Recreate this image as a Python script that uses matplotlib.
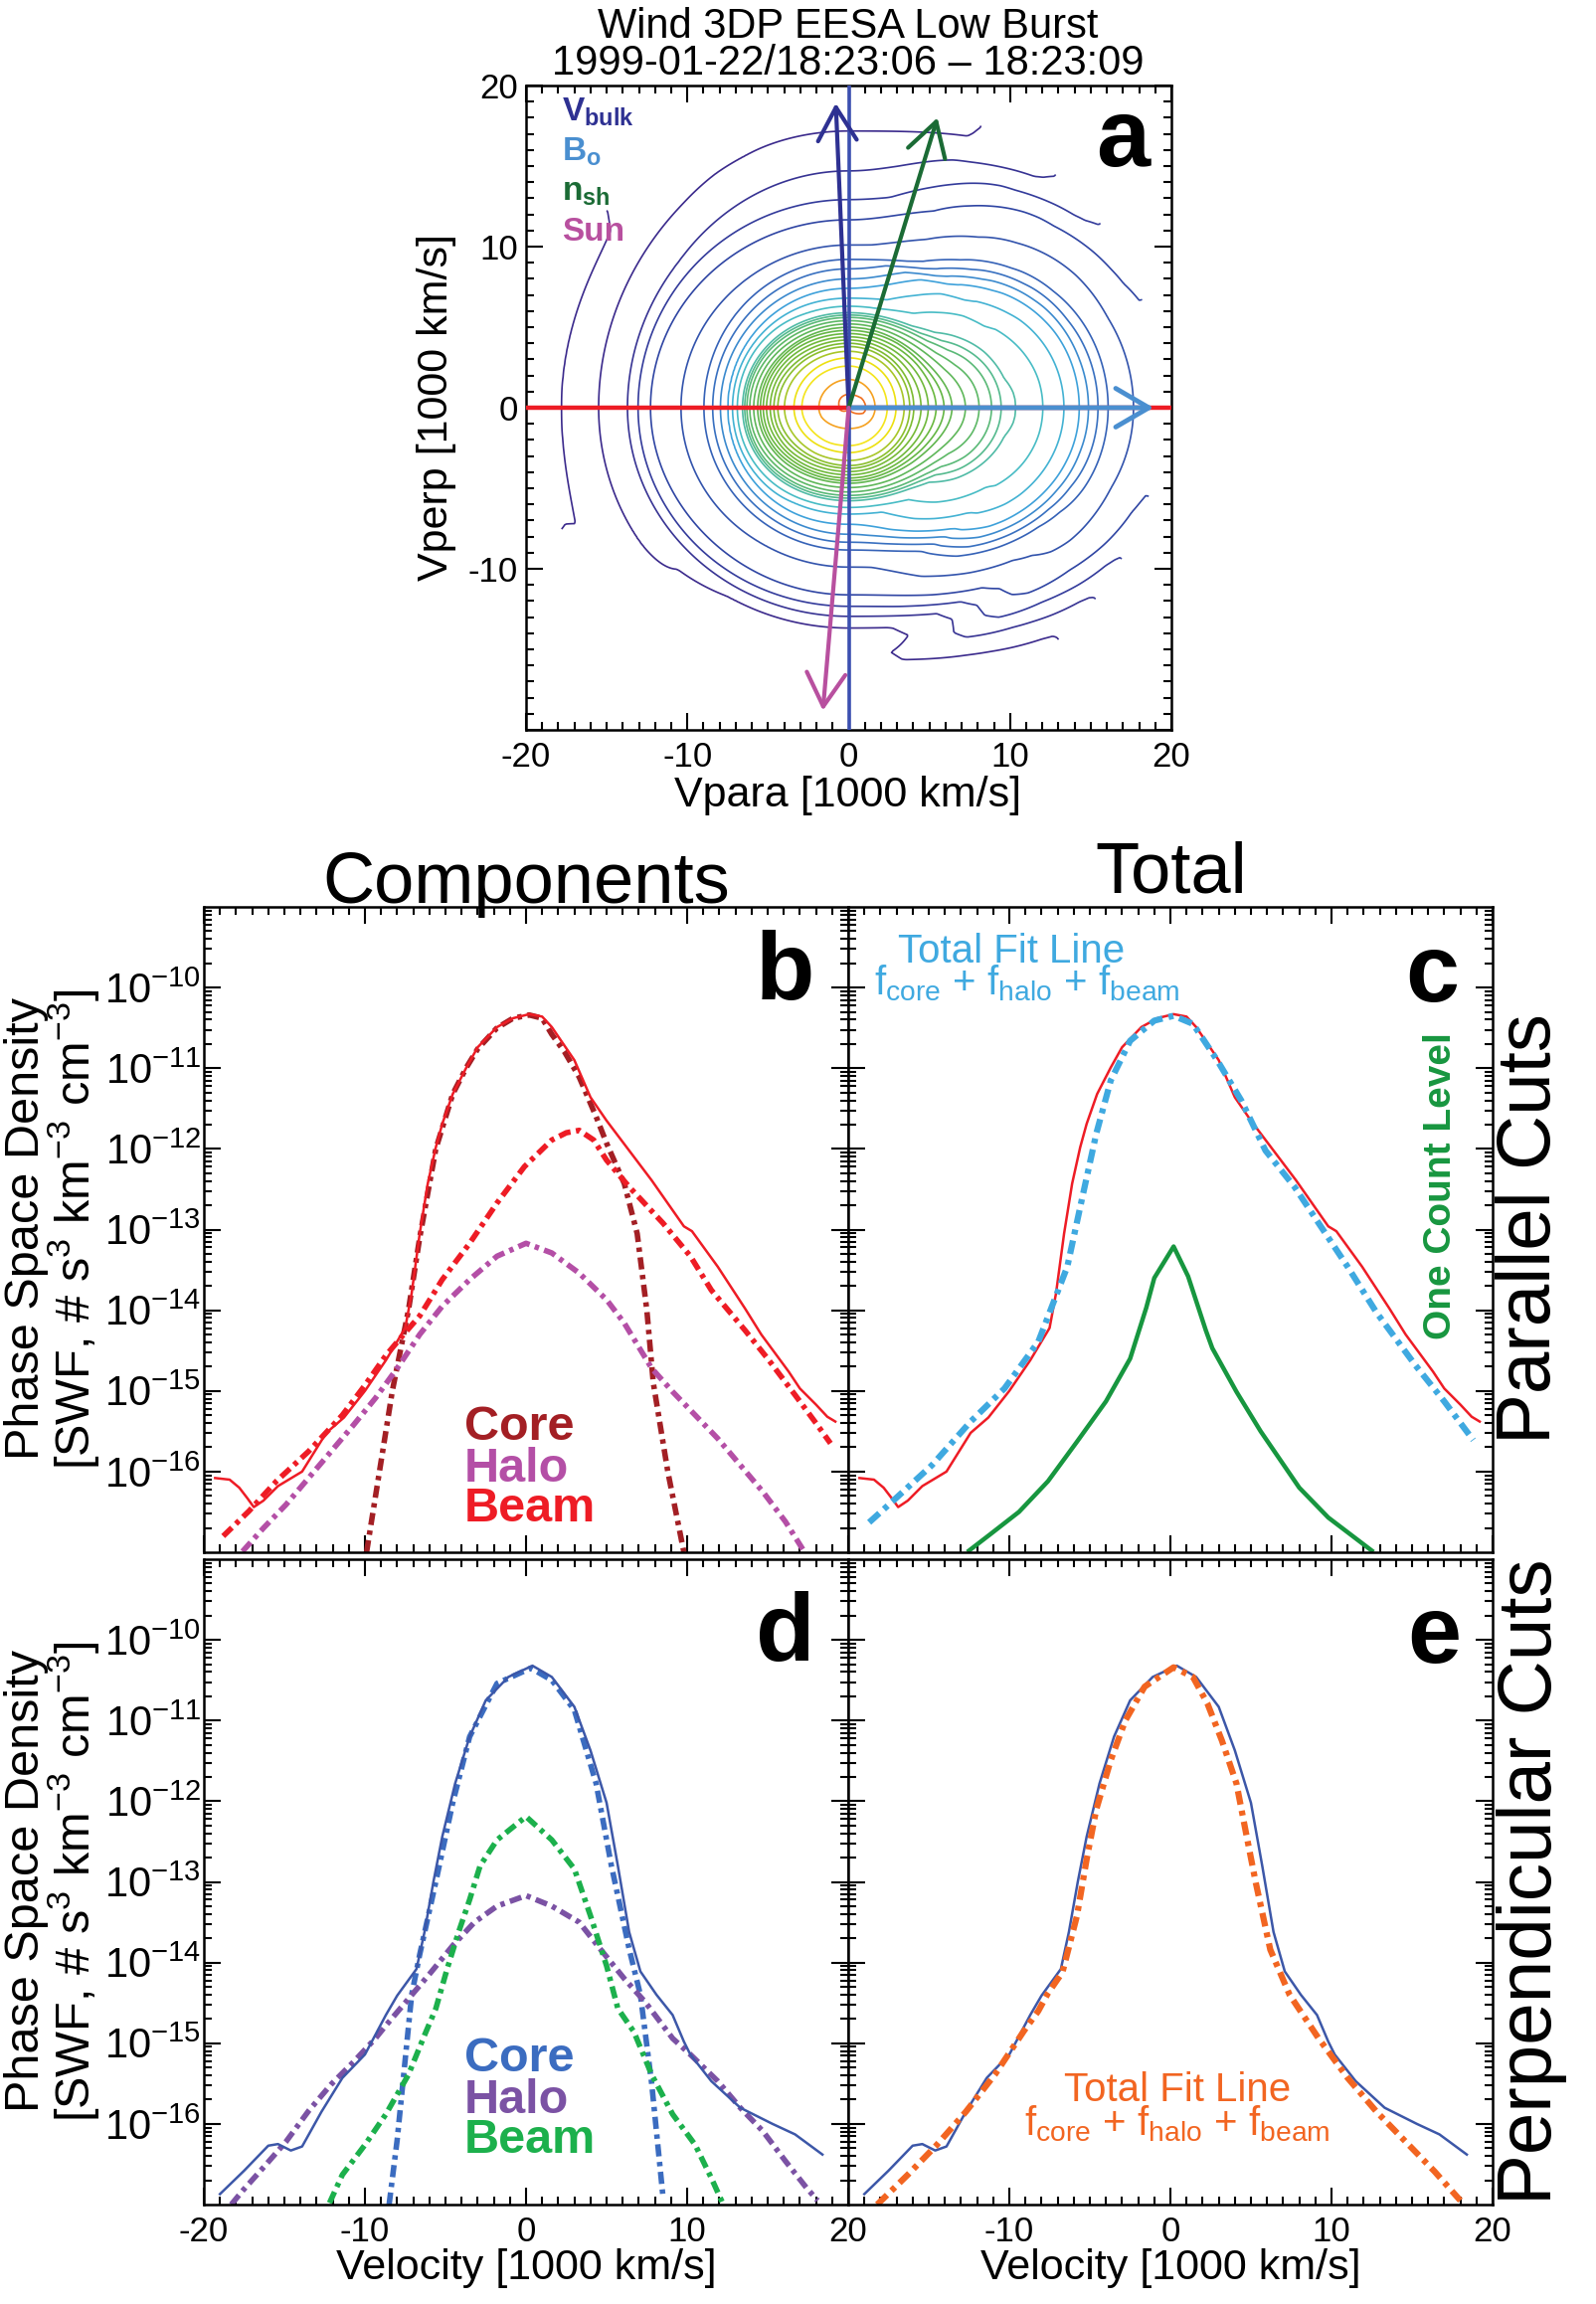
import numpy as np
import matplotlib
matplotlib.use("Agg")
import matplotlib.pyplot as plt
from matplotlib.colors import LinearSegmentedColormap
from matplotlib.ticker import FixedLocator, LogLocator, NullFormatter, MultipleLocator

plt.rcParams['font.family'] = ['Liberation Sans', 'DejaVu Sans']
plt.rcParams['mathtext.fontset'] = 'custom'
plt.rcParams['mathtext.rm'] = 'Liberation Sans'
plt.rcParams['mathtext.it'] = 'Liberation Sans'
plt.rcParams['mathtext.bf'] = 'Liberation Sans:bold'
plt.rcParams['mathtext.default'] = 'regular'
plt.rcParams['axes.unicode_minus'] = False

# ---------------- data (log10 of phase space density) ----------------
# parallel cut, measured (red solid)
par_v = [-19.3, -18.4, -17.8, -17.3, -16.9, -16.3, -15.4, -13.9, -12.4, -11.3, -10.0, -8.7,
         -7.5, -7.1, -6.6, -6.1, -5.6, -5.2, -4.55, -3.7, -3.0, -1.8, -0.8, 0.2, 1.0, 1.6,
         3.0, 4.0, 5.0, 6.4, 7.8, 9.8, 10.3, 11.9, 13.6, 14.6, 16.3, 17.0, 18.0, 18.7, 19.2]
par_logf = [-16.08, -16.10, -16.20, -16.33, -16.44, -16.36, -16.18, -16.0, -15.52, -15.33,
            -15.0, -14.62, -14.22, -13.79, -13.05, -12.43, -11.98, -11.69, -11.32, -10.99,
            -10.74, -10.49, -10.38, -10.33, -10.36, -10.49, -10.9, -11.36, -11.65, -12.02,
            -12.39, -12.96, -13.02, -13.46, -13.98, -14.3, -14.76, -14.97, -15.17, -15.32, -15.38]
# parallel fits
core_par_v = [-9.9, -9.1, -8.3, -7.3, -6.6, -5.6, -4.55, -3.7, -3.0, -1.8, -0.8, 0.2, 1.0,
              1.6, 2.4, 3.3, 4.35, 5.0, 6.1, 6.9, 7.5, 7.9, 8.8, 9.8]
core_par_logf = [-17.0, -16.0, -15.0, -14.0, -13.1, -12.0, -11.32, -10.99, -10.76, -10.5,
                 -10.38, -10.34, -10.38, -10.58, -10.8, -11.11, -11.6, -11.93, -12.43,
                 -13.05, -14.0, -14.9, -16.0, -17.0]
halo_par_v = [-17.6, -16.3, -14.9, -13.5, -12.1, -10.7, -9.35, -8.0, -6.6, -5.2, -3.5, -1.8,
              0.0, 1.6, 3.3, 5.0, 6.1, 7.8, 9.1, 10.5, 11.9, 13.3, 14.7, 16.1, 17.2]
halo_par_logf = [-16.99, -16.7, -16.41, -16.08, -15.75, -15.42, -15.09, -14.72, -14.3, -13.95,
                 -13.62, -13.33, -13.17, -13.29, -13.54, -13.87, -14.16, -14.72, -15.01, -15.3,
                 -15.59, -15.92, -16.25, -16.62, -16.97]
beam_par_v = [-18.8, -17.2, -15.5, -13.5, -11.4, -10.0, -8.7, -7.6, -6.6, -5.2, -3.5, -1.8,
              -0.1, 1.6, 2.5, 3.3, 4.2, 5.0, 6.4, 8.5, 10.2, 11.5, 13.6, 15.0, 16.7, 18.0, 18.9]
beam_par_logf = [-16.8, -16.49, -16.12, -15.75, -15.3, -14.93, -14.56, -14.3, -14.07, -13.62,
                 -13.17, -12.67, -12.22, -11.89, -11.8, -11.77, -11.89, -12.14, -12.47, -12.92,
                 -13.33, -13.75, -14.25, -14.6, -15.05, -15.4, -15.65]
tot_par_v = [-18.7, -17.2, -14.8, -12.4, -10.3, -8.2, -7.0, -6.4, -5.5, -4.6, -3.7, -2.5, -1.0,
             0.2, 1.4, 2.9, 4.4, 5.9, 7.7, 9.2, 11.0, 12.8, 15.2, 17.0, 18.8]
tot_par_logf = [-16.63, -16.36, -15.92, -15.38, -14.97, -14.39, -13.77, -13.46, -12.63, -11.81,
                -11.15, -10.66, -10.41, -10.35, -10.45, -10.9, -11.4, -12.02, -12.47, -12.92,
                -13.46, -14.03, -14.68, -15.13, -15.61]
onecount_v = [-12.5, -11.2, -9.4, -7.6, -5.8, -4.0, -2.5, -1.5, -1.0, 0.2, 1.1, 2.2, 2.6, 4.1,
              5.6, 8.0, 9.8, 12.5]
onecount_logf = [-16.98, -16.78, -16.5, -16.12, -15.63, -15.13, -14.6, -13.97, -13.6, -13.21,
                 -13.58, -14.25, -14.47, -15.01, -15.5, -16.2, -16.57, -16.98]

# perpendicular cut, measured (blue solid)
perp_v = [-19.0, -17.5, -16.0, -15.4, -14.6, -13.9, -12.7, -11.4, -10.0, -8.7, -8.0, -6.8,
          -6.3, -5.75, -5.2, -4.4, -3.5, -2.5, -1.1, 0.4, 1.6, 3.0, 4.0, 5.0, 5.7, 6.4, 7.1,
          8.1, 9.1, 9.8, 10.2, 11.5, 13.3, 15.3, 16.7, 18.4]
perp_logf = [-16.87, -16.58, -16.27, -16.25, -16.33, -16.28, -15.85, -15.43, -15.14, -14.65,
             -14.41, -14.08, -13.62, -13.0, -12.44, -11.78, -11.2, -10.75, -10.46, -10.32,
             -10.46, -10.83, -11.37, -12.02, -12.8, -13.62, -14.11, -14.4, -14.65, -14.98,
             -15.14, -15.47, -15.8, -16.0, -16.13, -16.38]
core_perp_v = [-8.5, -8.0, -7.6, -7.1, -6.6, -5.6, -4.55, -3.5, -1.8, 0.3, 1.6, 3.0, 4.35,
               5.3, 6.4, 7.1, 7.8, 8.5]
core_perp_logf = [-17.0, -16.2, -15.4, -14.4, -13.9, -13.0, -12.02, -11.2, -10.54, -10.35,
                  -10.5, -10.87, -11.78, -12.8, -13.83, -14.4, -15.5, -16.9]
halo_perp_v = [-18.3, -17.6, -16.3, -14.9, -13.5, -12.1, -10.7, -9.35, -8.7, -7.3, -5.9,
               -4.55, -3.2, -1.8, 0.0, 1.6, 3.3, 4.6, 6.1, 7.4, 9.1, 10.2, 11.9, 13.3, 14.7,
               16.1, 17.4, 18.1]
halo_perp_logf = [-17.0, -16.83, -16.54, -16.22, -15.84, -15.51, -15.23, -14.94, -14.78,
                  -14.45, -14.12, -13.79, -13.5, -13.3, -13.17, -13.3, -13.5, -13.83, -14.2,
                  -14.49, -14.94, -15.14, -15.47, -15.8, -16.09, -16.46, -16.79, -16.95]
beam_perp_v = [-12.2, -11.4, -10.0, -8.7, -7.3, -6.3, -5.6, -4.9, -4.2, -3.5, -2.85, -1.8,
               0.0, 1.6, 3.0, 4.0, 5.0, 5.7, 6.7, 7.8, 9.1, 10.5, 11.5, 12.2]
beam_perp_logf = [-16.98, -16.63, -16.26, -15.88, -15.39, -14.9, -14.57, -14.08, -13.63,
                  -13.22, -12.8, -12.48, -12.19, -12.48, -12.84, -13.42, -14.04, -14.57,
                  -14.86, -15.39, -15.88, -16.26, -16.67, -16.98]
tot_perp_v = [-18.2, -16.3, -14.5, -12.7, -10.9, -9.1, -8.2, -7.6, -6.7, -5.8, -5.2, -4.6,
              -3.7, -2.8, -1.6, 0.2, 1.4, 2.3, 3.2, 4.1, 4.7, 5.3, 6.2, 7.4, 9.2, 11.0, 12.8,
              14.6, 16.4, 18.0]
tot_perp_logf = [-17.0, -16.63, -16.26, -15.85, -15.39, -14.85, -14.6, -14.38, -14.12, -13.42,
                 -12.72, -12.1, -11.49, -11.0, -10.58, -10.34, -10.46, -10.79, -11.25, -11.78,
                 -12.4, -13.01, -13.84, -14.4, -14.94, -15.43, -15.85, -16.22, -16.59, -16.95]

# contour levels of panel a (log10 f)
contour_levels = [-16.2, -15.94, -15.73, -15.5, -15.1, -14.7, -14.53, -14.37, -14.2, -13.9,
                  -13.5, -13.03, -12.86, -12.69, -12.47, -12.24, -12.02, -11.89, -11.76,
                  -11.63, -11.5, -11.37, -11.26, -11.1, -10.88, -10.72, -10.5, -10.37]

# panel a vectors (Vpara, Vperp) in 1000 km/s
vec_names = ['Vbulk', 'Bo', 'nsh', 'Sun']
vec_tips = [(-0.8, 18.9), (18.9, 0.0), (5.5, 18.0), (-1.6, -18.8)]
vec_colors = ['#2e3192', '#4a8fd0', '#1b6b35', '#b8509f']

# ---------------- figure ----------------
W, H = 1605, 2317
fig = plt.figure(figsize=(W / 100, H / 100), dpi=100)


def rect(x0, y0, x1, y1):
    return [x0 / W, 1 - y1 / H, (x1 - x0) / W, (y1 - y0) / H]


def fx(p):
    return p / W


def fy(p):
    return 1 - p / H


TICK_FS = 25
LAB_FS = 31

# ---------------- panel a ----------------
axa = fig.add_axes(rect(529, 86, 1178, 734))
grid = np.linspace(-20, 20, 401)
X, Y = np.meshgrid(grid, grid)
R = np.hypot(X, Y)
C2 = (X / np.where(R == 0, 1, R)) ** 2
Lpar = np.interp(np.where(X >= 0, R, -R), par_v, par_logf)
Lperp = np.interp(np.where(Y >= 0, R, -R), perp_v, perp_logf)
L = C2 * Lpar + (1 - C2) * Lperp
L[R > 19.4] = np.nan
cmap = LinearSegmentedColormap.from_list('idl', [
    (0.0, '#3b2a8c'), (0.11, '#2f45a3'), (0.22, '#3870c0'), (0.30, '#3fa5dc'),
    (0.36, '#46bccc'), (0.42, '#52bb9c'), (0.50, '#5cb86c'), (0.62, '#62b646'),
    (0.80, '#80bc30'), (0.855, '#a8c628'), (0.89, '#ece010'), (0.93, '#f4e41c'),
    (0.965, '#f5a020'), (1.0, '#f07020')])
ncl = len(contour_levels)
cl_colors = [cmap(i / (ncl - 1)) for i in range(ncl)]
axa.contour(X, Y, L, levels=contour_levels, colors=cl_colors, linewidths=1.2)
axa.axhline(0, color='#ed1c24', lw=3.2, zorder=3)
axa.axvline(0, color='#3b4fb0', lw=2.6, zorder=3)
for tip, col in zip(vec_tips, vec_colors):
    axa.annotate('', xy=tip, xytext=(0, 0),
                 arrowprops=dict(arrowstyle='->,head_length=0.6,head_width=0.35',
                                 color=col, lw=3 if col != '#4a8fd0' else 3.5,
                                 mutation_scale=40, shrinkA=0, shrinkB=0), zorder=4)
axa.set_xlim(-20, 20)
axa.set_ylim(-20, 20)
axa.set_xticks([-20, -10, 0, 10, 20])
axa.set_yticks([-20, -10, 0, 10, 20], labels=['', '-10', '0', '10', '20'])
axa.xaxis.set_minor_locator(MultipleLocator(1))
axa.yaxis.set_minor_locator(MultipleLocator(1))
axa.tick_params(which='both', direction='in', top=True, right=True, width=1.5,
                labelsize=TICK_FS)
axa.tick_params(which='major', length=12)
axa.tick_params(which='minor', length=6)
axa.tick_params(axis='x', pad=8)
axa.tick_params(axis='y', pad=6)
for s in axa.spines.values():
    s.set_linewidth(1.8)
axa.text(0.966, 0.875, 'a', transform=axa.transAxes, ha='right', va='baseline',
         fontsize=70, fontweight='bold')
leg_labels = [r'$V_{bulk}$', r'$B_{o}$', r'$n_{sh}$', 'Sun']
leg_base = [122, 162, 202, 242]
for lab, yb, col in zip(leg_labels, leg_base, vec_colors):
    fig.text(fx(565), fy(yb), lab, color=col, fontsize=24, fontweight='bold',
             ha='left', va='baseline')
fig.text(fx(853), fy(38), 'Wind 3DP EESA Low Burst', fontsize=30, ha='center', va='baseline')
fig.text(fx(853), fy(75), '1999-01-22/18:23:06 \u2013 18:23:09', fontsize=30,
         ha='center', va='baseline')
fig.text(fx(853), fy(800), 'Vpara [1000 km/s]', fontsize=LAB_FS, ha='center', va='center')
fig.text(fx(439), fy(410), 'Vperp [1000 km/s]', fontsize=LAB_FS, ha='center', va='center',
         rotation=90)

# ---------------- panels b-e ----------------
axb = fig.add_axes(rect(205, 912, 853, 1561))
axc = fig.add_axes(rect(853, 912, 1501, 1561))
axd = fig.add_axes(rect(205, 1568, 853, 2217))
axe = fig.add_axes(rect(853, 1568, 1501, 2217))


def setup(ax, xlab, ylab, xlabels=None):
    ax.set_yscale('log')
    ax.set_xlim(-20, 20)
    ax.set_ylim(1e-17, 1e-9)
    ax.yaxis.set_major_locator(FixedLocator(10.0 ** np.arange(-16, -9)))
    ax.yaxis.set_minor_locator(LogLocator(base=10, subs=np.arange(2, 10), numticks=30))
    ax.yaxis.set_minor_formatter(NullFormatter())
    if xlabels is None:
        ax.set_xticks([-20, -10, 0, 10, 20])
    else:
        ax.set_xticks([-20, -10, 0, 10, 20], labels=xlabels)
    ax.xaxis.set_minor_locator(MultipleLocator(1))
    ax.tick_params(which='both', direction='in', top=True, right=True, width=1.5,
                   labelbottom=xlab, labelleft=ylab)
    ax.tick_params(which='major', length=12)
    ax.tick_params(which='minor', length=6)
    ax.tick_params(axis='x', labelsize=TICK_FS, pad=8)
    ax.tick_params(axis='y', labelsize=30, pad=2)
    for s in ax.spines.values():
        s.set_linewidth(1.8)


setup(axb, False, True)
setup(axc, False, False)
setup(axd, True, True)
setup(axe, True, False, xlabels=['', '-10', '0', '10', '20'])

DD = (0, (2.2, 1.0, 0.8, 1.0))


def p(v):
    return np.asarray(v, dtype=float)


def f(lg):
    return 10.0 ** np.asarray(lg, dtype=float)


# panel b
axb.plot(p(core_par_v), f(core_par_logf), color='#a31f24', lw=4, ls=DD)
axb.plot(p(halo_par_v), f(halo_par_logf), color='#b44fa6', lw=4, ls=DD)
axb.plot(p(beam_par_v), f(beam_par_logf), color='#ee1c25', lw=4, ls=DD)
axb.plot(p(par_v), f(par_logf), color='#ee1c25', lw=1.8)
# panel c
axc.plot(p(par_v), f(par_logf), color='#ee1c25', lw=1.8)
axc.plot(p(tot_par_v), f(tot_par_logf), color='#3fa9e0', lw=4.5, ls=DD)
axc.plot(p(onecount_v), f(onecount_logf), color='#17963f', lw=3.2)
# panel d
axd.plot(p(core_perp_v), f(core_perp_logf), color='#3b6cc0', lw=4, ls=DD)
axd.plot(p(halo_perp_v), f(halo_perp_logf), color='#7b52a4', lw=4, ls=DD)
axd.plot(p(beam_perp_v), f(beam_perp_logf), color='#1cb04c', lw=4, ls=DD)
axd.plot(p(perp_v), f(perp_logf), color='#3c57a8', lw=1.8)
# panel e
axe.plot(p(perp_v), f(perp_logf), color='#3c57a8', lw=1.8)
axe.plot(p(tot_perp_v), f(tot_perp_logf), color='#f26521', lw=4.5, ls=DD)

# panel letters
for ax, let, xr, yb in [(axb, 'b', 819, 1005), (axc, 'c', 1467, 1007),
                        (axd, 'd', 819, 1670), (axe, 'e', 1469, 1672)]:
    fig.text(fx(xr), fy(yb), let, ha='right', va='baseline', fontsize=70, fontweight='bold')

# component labels
for txt, col, yb in [('Core', '#a31f24', 1448), ('Halo', '#b44fa6', 1490),
                     ('Beam', '#ee1c25', 1530)]:
    fig.text(fx(467), fy(yb), txt, color=col, fontsize=35, fontweight='bold',
             ha='left', va='baseline')
for txt, col, yb in [('Core', '#3b6cc0', 2083), ('Halo', '#7b52a4', 2125),
                     ('Beam', '#1cb04c', 2165)]:
    fig.text(fx(467), fy(yb), txt, color=col, fontsize=35, fontweight='bold',
             ha='left', va='baseline')

fsum = r'$f_{core}$ + $f_{halo}$ + $f_{beam}$'
fig.text(fx(903), fy(968), 'Total Fit Line', color='#3fa9e0', fontsize=29, ha='left',
         va='baseline')
fig.text(fx(879), fy(1000), fsum, color='#3fa9e0', fontsize=29, ha='left', va='baseline')
fig.text(fx(1184), fy(2113), 'Total Fit Line', color='#f26521', fontsize=29, ha='center',
         va='baseline')
fig.text(fx(1184), fy(2147), fsum, color='#f26521', fontsize=29, ha='center', va='baseline')
fig.text(fx(1449), fy(1193), 'One Count Level', color='#17963f', fontsize=28,
         fontweight='bold', rotation=90, ha='center', va='center')

# headers and side labels
fig.text(fx(529), fy(908), 'Components', fontsize=52, ha='center', va='baseline')
fig.text(fx(1178), fy(898), 'Total', fontsize=52, ha='center', va='baseline')
fig.text(fx(1540), fy(1236), 'Parallel Cuts', fontsize=55, rotation=90, ha='center',
         va='center')
fig.text(fx(1540), fy(1892), 'Perpendicular Cuts', fontsize=55, rotation=90, ha='center',
         va='center')
for yc in (1236, 1892):
    fig.text(fx(27), fy(yc), 'Phase Space Density', fontsize=35, rotation=90,
             ha='center', va='center')
    fig.text(fx(74), fy(yc), r'[SWF, # s$^{3}$ km$^{-3}$ cm$^{-3}$]', fontsize=35,
             rotation=90, ha='center', va='center')
for xc in (529, 1177):
    fig.text(fx(xc), fy(2281), 'Velocity [1000 km/s]', fontsize=LAB_FS, ha='center',
             va='center')

fig.savefig('out.png', dpi=100)
